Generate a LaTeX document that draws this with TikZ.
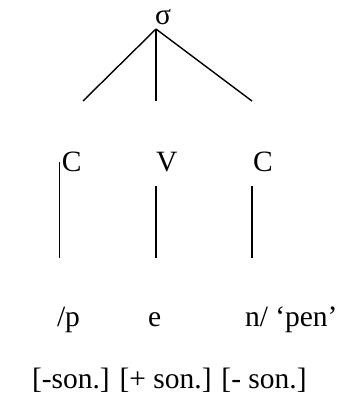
\documentclass[tikz,border=0pt]{standalone}
\usepackage{fontspec}
\setmainfont{Liberation Serif}
\begin{document}
\begin{tikzpicture}[x=1pt,y=-1pt,
  lbl/.style={anchor=base west,inner sep=0pt,outer sep=0pt,font=\fontsize{29.5}{34}\selectfont},
  branch/.style={line width=1.4pt,line cap=butt}]
\useasboundingbox (0,0) rectangle (350,400);
% labels
\node[lbl] (sigma) at (155,24) {σ};
\node[lbl] (c1) at (62,171) {C};
\node[lbl] (v) at (156,171) {V};
\node[lbl] (c2) at (253,171) {C};
\node[lbl] (p) at (57,326) {/p};
\node[lbl] (e) at (148,326) {e};
\node[lbl] (n) at (245,326) {n/ ‘pen’};
\node[lbl] (feat) at (32,388) {[-son.] [+ son.] [- son.]};
% tree coordinates
\coordinate (apex) at (156,29);
\coordinate (lend) at (83,101);
\coordinate (mend) at (156,101);
\coordinate (rend) at (252,101);
\coordinate (a1) at (59.5,162);
\coordinate (b1) at (59.5,258);
\coordinate (a2) at (156,186);
\coordinate (b2) at (156,258);
\coordinate (a3) at (252,186);
\coordinate (b3) at (252,258);
\draw[branch] (apex) -- (lend);
\draw[branch] (apex) -- (mend);
\draw[branch] (apex) -- (rend);
\draw[branch] (a1) -- (b1);
\draw[branch] (a2) -- (b2);
\draw[branch] (a3) -- (b3);
\end{tikzpicture}
\end{document}
